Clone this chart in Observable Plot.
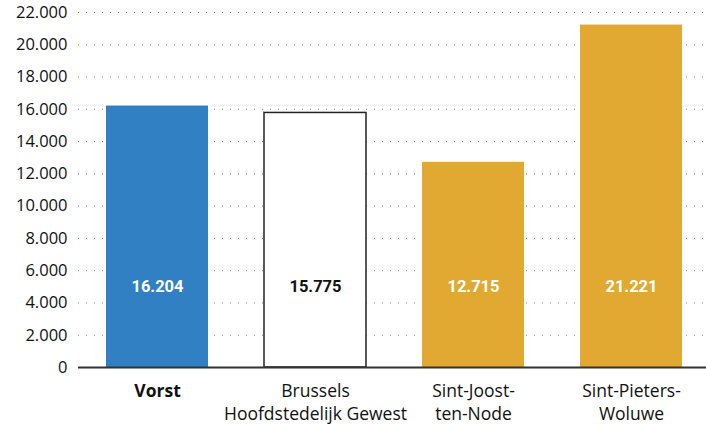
<!DOCTYPE html>
<html>
<head>
<meta charset="utf-8">
<script src="https://cdn.jsdelivr.net/npm/d3@7"></script>
<script src="https://cdn.jsdelivr.net/npm/@observablehq/plot@0.6"></script>
<style>
  html, body { margin: 0; padding: 0; background: #fff; }
  #chart svg { display: block; }
</style>
</head>
<body>
<div id="chart"></div>
<script>
const categories = ["Vorst", "Brussels\nHoofdstedelijk Gewest", "Sint-Joost-\nten-Node", "Sint-Pieters-\nWoluwe"];
const values = [16204, 15775, 12715, 21221];
const fills = ["#3180c3", "#ffffff", "#e1a931", "#e1a931"];
const labelColors = ["#ffffff", "#111111", "#ffffff", "#ffffff"];
const yTicks = [0, 2000, 4000, 6000, 8000, 10000, 12000, 14000, 16000, 18000, 20000, 22000];

const data = categories.map((c, i) => ({cat: c, value: values[i], fill: fills[i], lc: labelColors[i], bold: i === 0}));
const nl = d3.formatLocale({decimal: ",", thousands: ".", grouping: [3], currency: ["", ""]});
const fmt = nl.format(",");

const chart = Plot.plot({
  width: 706,
  height: 425,
  marginLeft: 78,
  marginRight: 0,
  marginTop: 12,
  marginBottom: 58,
  style: {fontFamily: "'Open Sans', 'Noto Sans', sans-serif", background: "#fff"},
  x: {domain: categories, range: [78, 710], paddingInner: 0.354, paddingOuter: 0.177, axis: null},
  y: {domain: [0, 22000], axis: null},
  marks: [
    Plot.ruleY(yTicks.filter(d => d > 0), {stroke: "#888", strokeDasharray: "1,7", strokeWidth: 1}),
    Plot.barY(data, {x: "cat", y: "value", fill: "fill", stroke: d => d.fill === "#ffffff" ? "#222" : "none", strokeWidth: 1.5, inset: 0}),
    Plot.text(data, {x: "cat", y: () => 5000, text: d => fmt(d.value), fill: "lc", fontSize: 16.5, fontWeight: "bold", fontFamily: "'Liberation Sans Narrow', 'Roboto', sans-serif"}),
    Plot.ruleY([0], {stroke: "#333", strokeWidth: 2}),
    Plot.ruleX([0], {x: () => 78, y1: 0, y2: 22000, stroke: "#777", strokeWidth: 2}),
    Plot.axisY(yTicks, {tickSize: 0, tickPadding: 11, fontSize: 16.5, tickFormat: fmt, fill: "#111", label: null}),
    Plot.text(data.filter(d => d.bold), {x: "cat", y: () => 0, text: "cat", dy: 13, lineAnchor: "top", lineHeight: 1.33, fontSize: 17.5, fontWeight: "bold", fill: "#111"}),
    Plot.text(data.filter(d => !d.bold), {x: "cat", y: () => 0, text: "cat", dy: 13, lineAnchor: "top", lineHeight: 1.33, fontSize: 17.5, fill: "#111"})
  ]
});
document.getElementById("chart").appendChild(chart);
</script>
</body>
</html>
